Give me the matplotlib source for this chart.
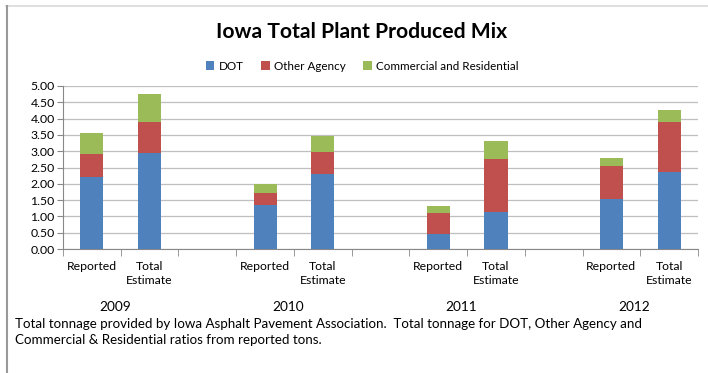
import numpy as np
import matplotlib.pyplot as plt

plt.rcParams['font.family'] = ['Lato', 'DejaVu Sans']

years = ["2009", "2010", "2011", "2012"]
kinds = ["Reported", "Total\nEstimate"]

# one slot per bar, with an empty slot between years
dot = [2.20, 2.95, np.nan, 1.35, 2.31, np.nan, 0.45, 1.13, np.nan, 1.53, 2.36]
other = [0.72, 0.95, np.nan, 0.36, 0.67, np.nan, 0.64, 1.62, np.nan, 1.03, 1.54]
comm = [0.63, 0.84, np.nan, 0.29, 0.48, np.nan, 0.22, 0.56, np.nan, 0.24, 0.35]

labels = []
for i, y in enumerate(years):
    labels += kinds
    if i < len(years) - 1:
        labels.append("")

dot = np.array(dot)
other = np.array(other)
comm = np.array(comm)
x = np.arange(len(labels))

fig = plt.figure(figsize=(7.08, 3.73), dpi=100)
ax = fig.add_axes([63 / 708, 1 - 249 / 373, (698 - 63) / 708, (249 - 86) / 373])

w = 0.4
ax.bar(x, dot, w, color="#4F81BD", label="DOT", zorder=3)
ax.bar(x, other, w, bottom=dot, color="#C0504D", label="Other Agency", zorder=3)
ax.bar(x, comm, w, bottom=dot + other, color="#9BBB59", label="Commercial and Residential", zorder=3)

ax.set_xlim(-0.5, len(labels) - 0.5)
ax.set_ylim(0, 5)
ax.set_yticks(np.arange(0, 5.01, 0.5))
ax.set_yticklabels([f"{v:.2f}" for v in np.arange(0, 5.01, 0.5)], fontsize=8.8)
ax.yaxis.grid(True, color="#BFBFBF", linewidth=0.9, zorder=0)
ax.tick_params(axis="y", length=4, color="#888888", pad=2)

ax.set_xticks(x)
ax.set_xticklabels(labels, fontsize=8.8, linespacing=1.3, va="top")
ax.tick_params(axis="x", which="major", length=0, pad=9)
ax.set_xticks(np.arange(-0.5, len(labels), 1), minor=True)
ax.tick_params(axis="x", which="minor", length=5, color="#888888")

for s in ["top", "right"]:
    ax.spines[s].set_visible(False)
ax.spines["left"].set_color("#888888")
ax.spines["bottom"].set_color("#888888")

# year labels under each pair
for i, y in enumerate(years):
    ax.text(3 * i + 0.4, -0.34 - 3 / 163, y, transform=ax.get_xaxis_transform(),
            ha="center", va="center", fontsize=9.8)

fig.text(0.511, 1 - 32 / 373, "Iowa Total Plant Produced Mix", ha="center", va="center",
         fontsize=15.2, fontweight="bold")
fig.legend(loc="center", bbox_to_anchor=(0.512, 1 - 66 / 373), ncol=3, frameon=False,
           fontsize=8.4, handlelength=0.7, handleheight=0.7, handletextpad=0.4, columnspacing=1.5)

fig.text(15 / 708, 1 - 324 / 373,
         "Total tonnage provided by Iowa Asphalt Pavement Association.  Total tonnage for DOT, Other Agency and",
         fontsize=9.6, va="center")
fig.text(15 / 708, 1 - 340 / 373, "Commercial & Residential ratios from reported tons.",
         fontsize=9.6, va="center")

# chart frame
fig.add_artist(plt.Line2D([6 / 708, 1], [1 - 6 / 373] * 2, color="#D9D9D9", linewidth=1.2))
fig.add_artist(plt.Line2D([6.5 / 708] * 2, [0, 1 - 6 / 373], color="#999999", linewidth=1.5))

fig.savefig("out.png", dpi=100)
